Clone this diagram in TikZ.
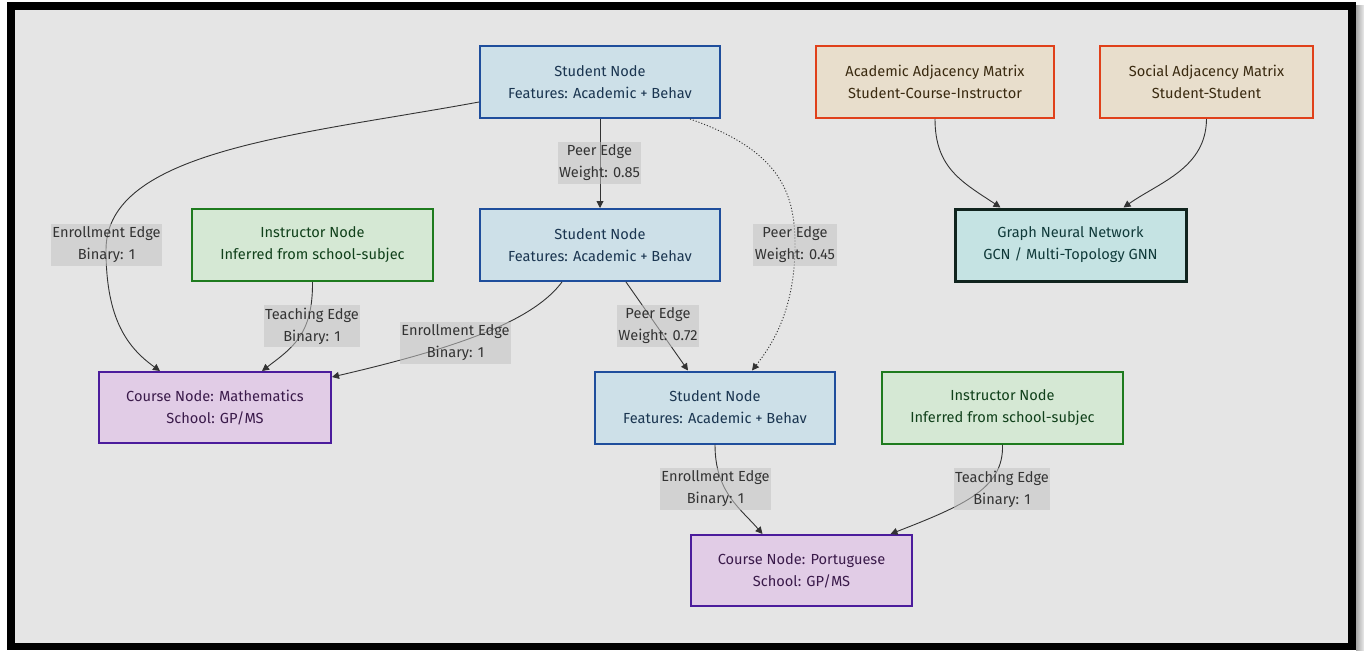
\documentclass[tikz,border=0pt]{standalone}
\usepackage{fontspec}
\setmainfont{Fira Sans}
\usetikzlibrary{arrows.meta}
\definecolor{bgpanel}{HTML}{E5E5E5}
\definecolor{edgecol}{HTML}{333333}
\definecolor{stufill}{HTML}{CDE0E8}
\definecolor{studraw}{HTML}{1F4E9C}
\definecolor{stutext}{HTML}{1A3550}
\definecolor{matfill}{HTML}{E8DECC}
\definecolor{matdraw}{HTML}{E0401A}
\definecolor{mattext}{HTML}{3A2A10}
\definecolor{insfill}{HTML}{D5E8D4}
\definecolor{insdraw}{HTML}{1E7B1E}
\definecolor{instext}{HTML}{10401A}
\definecolor{gnnfill}{HTML}{C5E3E3}
\definecolor{gnndraw}{HTML}{10241E}
\definecolor{gnntext}{HTML}{103A3A}
\definecolor{crsfill}{HTML}{E1CCE6}
\definecolor{crsdraw}{HTML}{4B1C9C}
\definecolor{crstext}{HTML}{3A1A4A}
\definecolor{lblfill}{HTML}{C4C4C4}
\tikzset{
  txt/.style={font=\fontsize{14.6}{22}\selectfont, align=center},
  box/.style={txt, rectangle, line width=2pt, minimum height=72pt, inner sep=0pt},
  student/.style={box, fill=stufill, draw=studraw, text=stutext, minimum width=240pt},
  matrixbox/.style={box, fill=matfill, draw=matdraw, text=mattext},
  instructor/.style={box, fill=insfill, draw=insdraw, text=instext, minimum width=241pt},
  gnnbox/.style={box, fill=gnnfill, draw=gnndraw, text=gnntext, line width=3pt, minimum width=231pt},
  course/.style={box, fill=crsfill, draw=crsdraw, text=crstext, minimum height=71pt},
  elabel/.style={txt, text=edgecol, fill=lblfill, fill opacity=0.55, text opacity=1,
                 inner xsep=1.5pt, inner ysep=3pt},
  conn/.style={draw=edgecol, line width=0.9pt, -{Triangle[length=7pt,width=7pt]}},
  weakconn/.style={conn, dash pattern=on 1.1pt off 1.9pt}
}
\begin{document}
\begin{tikzpicture}[x=1pt,y=-1pt]
  % page, frame and drop shadow
  \useasboundingbox (0,0) rectangle (1364,650);
  \fill[white] (0,0) rectangle (1364,650);
  \shade[left color=gray!70, right color=gray!15] (1356,6) rectangle (1364,650);
  \fill[black] (7,2) rectangle (1356,650);
  \fill[bgpanel] (15,10) rectangle (1348,643);

  % nodes
  \node[student] (s1) at (600,82) {Student Node\\Features: Academic + Behav};
  \node[matrixbox, minimum width=238pt] (acad) at (935,82) {Academic Adjacency Matrix\\Student-Course-Instructor};
  \node[matrixbox, minimum width=213pt] (soc) at (1206.5,82) {Social Adjacency Matrix\\Student-Student};
  \node[gnnbox] (gnn) at (1070.5,245) {Graph Neural Network\\GCN / Multi-Topology GNN};
  \node[instructor] (ins1) at (312.5,245) {Instructor Node\\Inferred from school-subjec};
  \node[student] (s2) at (600,245) {Student Node\\Features: Academic + Behav};
  \node[course, minimum width=232pt] (math) at (215,407.5) {Course Node: Mathematics\\School: GP/MS};
  \node[student] (s3) at (715,407.5) {Student Node\\Features: Academic + Behav};
  \node[instructor] (ins2) at (1002.5,407.5) {Instructor Node\\Inferred from school-subjec};
  \node[course, minimum width=221pt] (port) at (801.5,570.5) {Course Node: Portuguese\\School: GP/MS};

  % connectors
  \draw[conn] ([yshift=-20pt]s1.west) .. controls (300,135) and (106,150) .. (106,250)
              .. controls (106,320) and (128,348) .. ([xshift=-55pt]math.north);
  \draw[conn] (s1.south) -- (s2.north);
  \draw[weakconn] ([xshift=90pt]s1.south) .. controls (778,150) and (795,190) .. (795,245)
              .. controls (795,310) and (772,345) .. ([xshift=37pt]s3.north);
  \draw[conn] (ins1.south) .. controls (313,335) and (292,348) .. ([xshift=47pt]math.north);
  \draw[conn] ([xshift=-38pt]s2.south) .. controls (535,318) and (470,345) .. ([yshift=-6pt]math.north east);
  \draw[conn] ([xshift=26pt]s2.south) -- ([xshift=-27pt]s3.north);
  \draw[conn] (s3.south) .. controls (715,492) and (740,508) .. ([xshift=-39pt]port.north);
  \draw[conn] (ins2.south) .. controls (1004,488) and (965,505) .. ([xshift=89pt]port.north);
  \draw[conn] (acad.south) .. controls (935,168) and (962,182) .. ([xshift=-70pt]gnn.north);
  \draw[conn] (soc.south) .. controls (1206,168) and (1160,182) .. ([xshift=53pt]gnn.north);

  % connector labels
  \node[elabel] (len1) at (106.5,245) {Enrollment Edge\\Binary: 1};
  \node[elabel] (lp85) at (599.5,163) {Peer Edge\\Weight: 0.85};
  \node[elabel] (lp45) at (795,245) {Peer Edge\\Weight: 0.45};
  \node[elabel] (lt1) at (312,326) {Teaching Edge\\Binary: 1};
  \node[elabel] (len2) at (455.5,343) {Enrollment Edge\\Binary: 1};
  \node[elabel] (lp72) at (658,326) {Peer Edge\\Weight: 0.72};
  \node[elabel] (len3) at (715.5,489) {Enrollment Edge\\Binary: 1};
  \node[elabel] (lt2) at (1002,489) {Teaching Edge\\Binary: 1};
\end{tikzpicture}
\end{document}
